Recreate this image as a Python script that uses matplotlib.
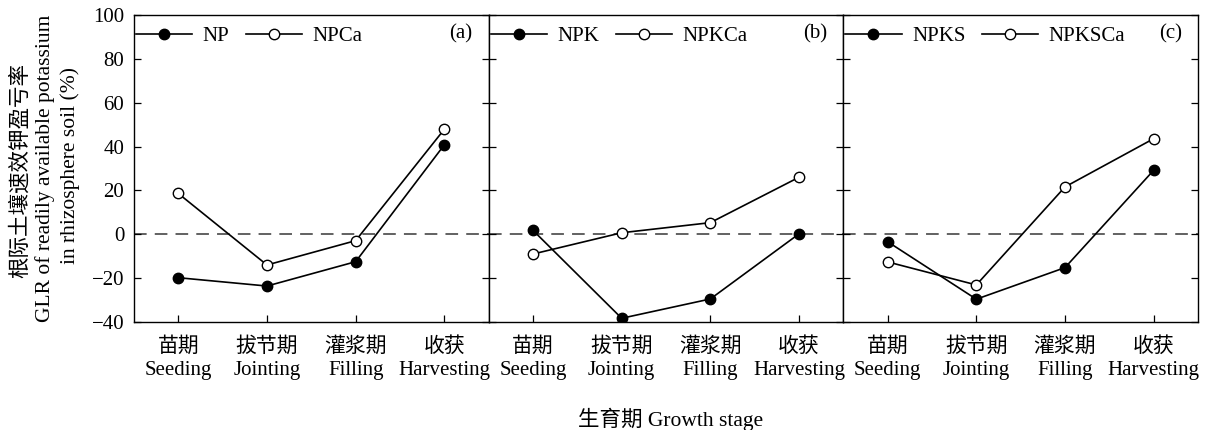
import matplotlib
matplotlib.use("Agg")
import matplotlib.pyplot as plt

# font: Times-like latin, CJK fallback
plt.rcParams['font.family'] = ['Liberation Serif', 'Noto Sans CJK SC']
plt.rcParams['font.size'] = 15
plt.rcParams['axes.unicode_minus'] = True

# data
stages_cn = ["苗期", "拔节期", "灌浆期", "收获"]
stages_en = ["Seeding", "Jointing", "Filling", "Harvesting"]
panel_tags = ["(a)", "(b)", "(c)"]

labels_plain = ["NP", "NPK", "NPKS"]
labels_ca = ["NPCa", "NPKCa", "NPKSCa"]

np_vals = [-19.8, -23.6, -12.5, 40.8]
npca_vals = [18.6, -14.0, -2.9, 47.9]
npk_vals = [1.8, -38.3, -29.5, 0.2]
npkca_vals = [-9.0, 0.7, 5.3, 26.0]
npks_vals = [-3.4, -29.6, -15.2, 29.2]
npksca_vals = [-12.6, -23.1, 21.6, 43.6]

plain_series = [np_vals, npk_vals, npks_vals]
ca_series = [npca_vals, npkca_vals, npksca_vals]

yticks = [-40, -20, 0, 20, 40, 60, 80, 100]

W, H = 1206, 430
fig = plt.figure(figsize=(W / 100, H / 100), dpi=100)
x_left, x_right, y_top, y_bot = 134, 1198, 15, 322
axes = fig.subplots(1, 3, sharey=True)
fig.subplots_adjust(left=x_left / W, right=x_right / W, top=1 - y_top / H,
                    bottom=1 - y_bot / H, wspace=0)

xs = list(range(len(stages_en)))
ticklabels = [f"{c}\n{e}" for c, e in zip(stages_cn, stages_en)]

for i, ax in enumerate(axes):
    ax.axhline(0, color='#555555', lw=1.3, ls=(0, (7, 4.5)), zorder=1)
    ax.plot(xs, plain_series[i], '-o', color='black', lw=1.2, ms=7.5,
            mfc='black', mec='black', label=labels_plain[i], zorder=3)
    ax.plot(xs, ca_series[i], '-o', color='black', lw=1.2, ms=7.5,
            mfc='white', mec='black', mew=1.0, label=labels_ca[i], zorder=3)

    ax.set_xlim(-0.5, 3.5)
    ax.set_ylim(-40, 100)
    ax.set_yticks(yticks)
    ax.set_xticks(xs)
    ax.set_xticklabels(ticklabels, linespacing=1.3)
    ax.tick_params(axis='both', direction='in', length=5, width=0.9, labelsize=15)
    ax.tick_params(axis='y', right=True, left=True, pad=7)
    ax.tick_params(axis='x', pad=11)
    for sp in ax.spines.values():
        sp.set_linewidth(1.0)

    # legend hugging the top-left corner
    ax.legend(loc='upper left', bbox_to_anchor=(-0.006, 0.975), ncol=2,
              frameon=False, fontsize=15, handlelength=2.7, handletextpad=0.5,
              columnspacing=0.8, borderaxespad=0, borderpad=0.2)
    ax.text(0.955, 0.94, panel_tags[i], transform=ax.transAxes,
            ha='right', va='center', fontsize=15)

axes[0].tick_params(axis='y', labelleft=True)

# y label, three lines
fig.text(21 / W, 1 - 171 / H, "根际土壤速效钾盈亏率", rotation=90,
         ha='center', va='center', fontsize=15.5)
fig.text(45 / W, 1 - 168 / H, "GLR of readily available potassium", rotation=90,
         ha='center', va='center', fontsize=15.5)
fig.text(70 / W, 1 - 165 / H, "in rhizosphere soil (%)", rotation=90,
         ha='center', va='center', fontsize=15.5)

# x label
fig.text(671 / W, 1 - 419 / H, "生育期 Growth stage", ha='center', va='center',
         fontsize=15.5)

fig.savefig("out.png", dpi=100)
